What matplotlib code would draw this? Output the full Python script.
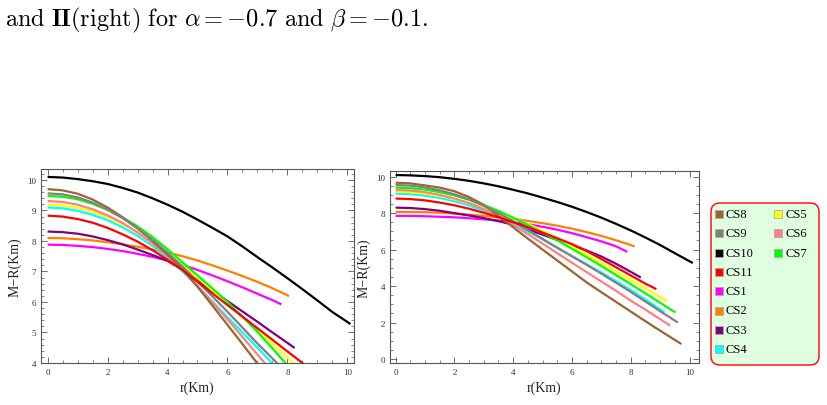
import matplotlib.pyplot as plt
from matplotlib.patches import FancyBboxPatch
from matplotlib.ticker import MultipleLocator

plt.rcParams['mathtext.fontset'] = 'cm'

# sample positions r (Km)
R_HALF = [0, 0.5, 1, 1.5, 2, 2.5, 3, 3.5, 4, 4.5, 5, 5.5, 6, 6.5, 7, 7.5, 8, 8.5, 9, 9.5, 10]

NAMES = ["CS1", "CS2", "CS3", "CS4", "CS5", "CS6", "CS7", "CS8", "CS9", "CS10", "CS11"]
COLORS = ["#ff00ff", "#ff8000", "#800080", "#00ffff", "#ffff00", "#ff8080",
          "#00ff00", "#996633", "#808080", "#000000", "#ff0000"]

# ---- panel I (left): M-R on the half grid, plus last point (r, M-R)
left_cs1 = [7.88, 7.87, 7.84, 7.8, 7.74, 7.67, 7.58, 7.48, 7.36, 7.22, 7.05, 6.87, 6.68, 6.48, 6.27, 6.06]
left_cs2 = [8.1, 8.09, 8.06, 8.02, 7.96, 7.89, 7.81, 7.72, 7.62, 7.5, 7.36, 7.2, 7.03, 6.85, 6.66, 6.45, 6.22]
left_cs3 = [8.31, 8.29, 8.24, 8.15, 8.03, 7.89, 7.72, 7.54, 7.35, 7.05, 6.71, 6.37, 6.03, 5.69, 5.35, 5.0, 4.66]
left_cs4 = [9.1, 9.07, 8.99, 8.86, 8.68, 8.45, 8.17, 7.83, 7.44, 7.0, 6.52, 6.02, 5.5, 5.0, 4.5, 3.98]
left_cs5 = [9.2, 9.17, 9.09, 8.96, 8.78, 8.55, 8.28, 7.96, 7.6, 7.21, 6.8, 6.38, 5.95, 5.52, 5.08, 4.63, 4.18, 3.72]
left_cs6 = [9.31, 9.28, 9.19, 9.04, 8.84, 8.59, 8.28, 7.92, 7.5, 7.04, 6.52, 5.98, 5.43, 4.86, 4.28, 3.7]
left_cs7 = [9.48, 9.45, 9.37, 9.22, 9.02, 8.77, 8.48, 8.13, 7.73, 7.3, 6.87, 6.44, 6.0, 5.52, 5.02, 4.48, 3.92]
left_cs8 = [9.7, 9.66, 9.55, 9.36, 9.1, 8.78, 8.41, 8.0, 7.56, 7.08, 6.5, 5.88, 5.25, 4.62, 3.98]
left_cs9 = [9.56, 9.53, 9.43, 9.26, 9.03, 8.75, 8.42, 8.04, 7.62, 7.16, 6.68, 6.18, 5.68, 5.16, 4.64, 4.15, 3.65]
left_cs10 = [10.1, 10.08, 10.03, 9.96, 9.87, 9.74, 9.59, 9.4, 9.19, 8.96, 8.7, 8.43, 8.15, 7.82, 7.47, 7.13, 6.78, 6.42, 6.05, 5.67]
left_cs11 = [8.83, 8.8, 8.72, 8.6, 8.43, 8.22, 7.98, 7.7, 7.38, 7.05, 6.66, 6.28, 5.9, 5.52, 5.14, 4.76, 4.38, 4.0, 3.62]
left_end_r = [7.8, 8.05, 8.24, None, None, None, None, None, None, 10.1, None]
left_end_v = [5.92, 6.19, 4.49, None, None, None, None, None, None, 5.28, None]

# ---- panel II (right)
right_cs1 = [7.85, 7.85, 7.83, 7.8, 7.77, 7.72, 7.66, 7.59, 7.5, 7.39, 7.25, 7.09, 6.9, 6.68, 6.45, 6.18]
right_cs2 = [8.07, 8.06, 8.05, 8.02, 7.97, 7.92, 7.85, 7.77, 7.68, 7.57, 7.45, 7.31, 7.15, 6.96, 6.75, 6.51, 6.25]
right_cs3 = [8.3, 8.28, 8.22, 8.13, 8.0, 7.87, 7.73, 7.56, 7.36, 7.1, 6.82, 6.53, 6.24, 5.95, 5.62, 5.22, 4.78]
right_cs4 = [9.07, 9.04, 8.96, 8.83, 8.65, 8.42, 8.14, 7.8, 7.42, 7.0, 6.56, 6.1, 5.65, 5.2, 4.74, 4.27, 3.78, 3.26, 2.72]
right_cs5 = [9.18, 9.15, 9.07, 8.94, 8.77, 8.55, 8.3, 8.0, 7.72, 7.4, 7.04, 6.63, 6.18, 5.72, 5.26, 4.8, 4.34, 3.88, 3.4]
right_cs6 = [9.27, 9.24, 9.15, 9.0, 8.8, 8.55, 8.22, 7.82, 7.35, 6.85, 6.33, 5.8, 5.28, 4.76, 4.25, 3.74, 3.2, 2.7, 2.18]
right_cs7 = [9.4, 9.37, 9.29, 9.15, 8.97, 8.73, 8.45, 8.12, 7.75, 7.35, 6.93, 6.5, 6.05, 5.58, 5.1, 4.6, 4.1, 3.6, 3.08]
right_cs8 = [9.67, 9.63, 9.52, 9.4, 9.2, 8.88, 8.45, 7.85, 7.22, 6.6, 6.0, 5.4, 4.8, 4.2, 3.66, 3.13, 2.6, 2.07, 1.55]
right_cs9 = [9.54, 9.51, 9.41, 9.25, 9.03, 8.75, 8.4, 8.0, 7.55, 7.07, 6.58, 6.1, 5.63, 5.16, 4.68, 4.18, 3.68, 3.15, 2.62]
right_cs10 = [10.09, 10.07, 10.03, 9.97, 9.88, 9.77, 9.63, 9.47, 9.28, 9.08, 8.85, 8.61, 8.35, 8.06, 7.75, 7.41, 7.05, 6.66, 6.25, 5.8]
right_cs11 = [8.8, 8.77, 8.7, 8.58, 8.43, 8.24, 8.02, 7.77, 7.5, 7.23, 6.93, 6.62, 6.3, 5.92, 5.48, 5.03, 4.58, 4.13]
right_end_r = [7.88, 8.13, 8.34, 9.15, 9.23, 9.34, 9.52, 9.72, 9.6, 10.11, 8.87]
right_end_v = [5.88, 6.17, 4.47, 2.55, 3.16, 1.83, 2.55, 0.82, 2.0, 5.26, 3.83]

left_curves = [left_cs1, left_cs2, left_cs3, left_cs4, left_cs5, left_cs6,
               left_cs7, left_cs8, left_cs9, left_cs10, left_cs11]
right_curves = [right_cs1, right_cs2, right_cs3, right_cs4, right_cs5, right_cs6,
                right_cs7, right_cs8, right_cs9, right_cs10, right_cs11]

FRAME = "#555555"
TXT = "#333333"


def draw_panel(ax, curves, end_r, end_v):
    for vals, er, ev, col in zip(curves, end_r, end_v, COLORS):
        r = R_HALF[:len(vals)]
        v = list(vals)
        if er is not None:
            r = r + [er]
            v = v + [ev]
        ax.plot(r, v, color=col, lw=1.6, solid_capstyle='butt', solid_joinstyle='round')
    for s in ax.spines.values():
        s.set_color(FRAME)
        s.set_linewidth(0.8)
    ax.tick_params(which='both', direction='in', top=True, right=True,
                   colors=FRAME, labelcolor=TXT, labelsize=6.5)
    ax.tick_params(which='major', length=4, width=0.6)
    ax.tick_params(which='minor', length=2, width=0.5)
    for lab in ax.get_xticklabels() + ax.get_yticklabels():
        lab.set_family('Liberation Serif')
    ax.set_xlabel("r(Km)", family='Liberation Serif', fontsize=10, color='#222222', labelpad=3)
    ax.set_ylabel("M\u2212R(Km)", family='Liberation Serif', fontsize=10, color='#222222', labelpad=4)


fig = plt.figure(figsize=(8.28, 4.06), dpi=100)

fig.text(0.006, 0.935, r"$\mathrm{and}\ \mathbf{II}\mathrm{(right)\ for}\ \alpha=-0.7\ \mathrm{and}\ \beta=-0.1.$",
         fontsize=17.5, color='black', ha='left', va='baseline')

ax1 = fig.add_axes([41 / 828, 1 - 364 / 406, 313 / 828, 194 / 406])
ax1.set_xlim(-0.22, 10.22)
ax1.set_ylim(4, 10.36)
ax1.xaxis.set_major_locator(MultipleLocator(2))
ax1.xaxis.set_minor_locator(MultipleLocator(0.5))
ax1.yaxis.set_major_locator(MultipleLocator(1))
ax1.yaxis.set_minor_locator(MultipleLocator(0.2))
draw_panel(ax1, left_curves, left_end_r, left_end_v)

ax2 = fig.add_axes([390 / 828, 1 - 364 / 406, 309 / 828, 192 / 406])
ax2.set_xlim(-0.19, 10.32)
ax2.set_ylim(-0.22, 10.31)
ax2.xaxis.set_major_locator(MultipleLocator(2))
ax2.xaxis.set_minor_locator(MultipleLocator(0.5))
ax2.yaxis.set_major_locator(MultipleLocator(2))
ax2.yaxis.set_minor_locator(MultipleLocator(0.5))
draw_panel(ax2, right_curves, right_end_r, right_end_v)

# legend box: first column CS8..CS4, second column CS5..CS7
lax = fig.add_axes([710 / 828, 1 - 367 / 406, 110 / 828, 164 / 406])
lax.set_xlim(0, 110)
lax.set_ylim(164, 0)
lax.axis('off')
lax.add_patch(FancyBboxPatch((1, 1), 108, 162, boxstyle="round,pad=0,rounding_size=9",
                             fc="#e0fee0", ec="#ff0000", lw=1.0))
col1 = ["CS8", "CS9", "CS10", "CS11", "CS1", "CS2", "CS3", "CS4"]
col2 = ["CS5", "CS6", "CS7"]
for j, col in enumerate([col1, col2]):
    for i, name in enumerate(col):
        y = 12 + i * 19.3
        x = 9 + j * 59
        lax.plot(x, y, marker='s', ms=5.5, mfc=COLORS[NAMES.index(name)], mec='#aaaaaa', mew=0.6)
        lax.text(x + 7, y, name, family='Liberation Serif', fontsize=9, va='center', ha='left')

fig.savefig("out.png", dpi=100)
